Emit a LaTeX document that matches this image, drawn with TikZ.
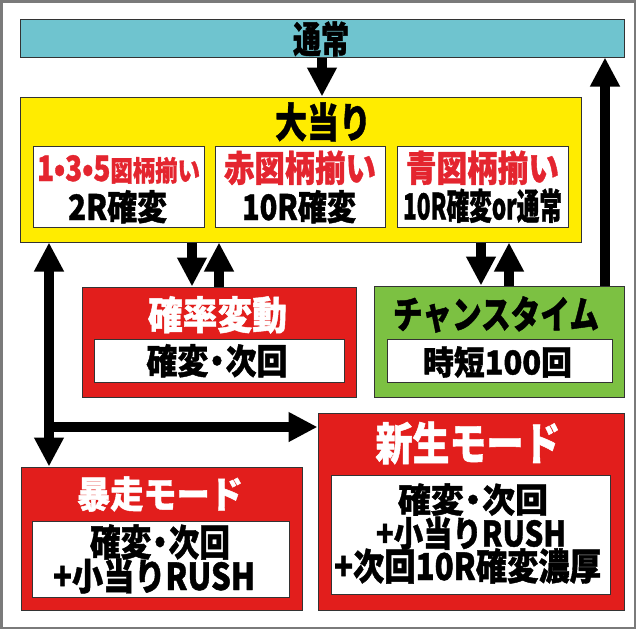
\documentclass[tikz,border=0pt]{standalone}
\usepackage{fontspec}
\setmainfont{Noto Sans CJK JP}[BoldFeatures={FakeBold=1.2}]
\usepackage{graphicx}
\usetikzlibrary{arrows.meta,calc}
\definecolor{cyanbar}{HTML}{6FC4CF}
\definecolor{yel}{HTML}{FFEC00}
\definecolor{redbox}{HTML}{E21E1C}
\definecolor{grn}{HTML}{7CC142}
\definecolor{redtxt}{HTML}{E4252F}
\definecolor{frame}{HTML}{7A7A7A}
\newcommand\tx[3]{{\fontsize{#2}{#2}\selectfont\bfseries\resizebox{#1}{\height}{#3}}}
\newcommand\dt{\kern-0.22em・\kern-0.22em}
\tikzset{
  box/.style={draw=black!80, line width=1pt, inner sep=0pt, rectangle},
  lbl/.style={inner sep=0pt, anchor=base},
  arr/.style={line width=10pt, -{Triangle[width=28pt,length=29pt]}},
  darr/.style={line width=10pt, {Triangle[width=28pt,length=29pt]}-{Triangle[width=28pt,length=29pt]}},
}
\begin{document}
\begin{tikzpicture}[x=1pt,y=-1pt]
\useasboundingbox (0,0) rectangle (642,630);
\fill[white] (0,0) rectangle (642,630);
\draw[frame, line width=2.5pt] (1.25,1.25) rectangle (635,628);
% boxes
\node[box, fill=cyanbar, minimum width=604pt, minimum height=38pt] (tsujo) at (322,38) {};
\node[box, fill=yel, minimum width=561pt, minimum height=145pt] (ooatari) at (300.5,169.5) {};
\node[box, fill=white, minimum width=171pt, minimum height=81pt] (s1) at (118.5,186.5) {};
\node[box, fill=white, minimum width=170pt, minimum height=81pt] (s2) at (300,186.5) {};
\node[box, fill=white, minimum width=171pt, minimum height=81pt] (s3) at (482.5,186.5) {};
\node[box, fill=redbox, minimum width=274pt, minimum height=110pt] (kakuhen) at (219,342) {};
\node[box, fill=white, minimum width=250pt, minimum height=43pt] (kakuheni) at (219,360.5) {};
\node[box, fill=grn, minimum width=250pt, minimum height=111pt] (chance) at (499,341.5) {};
\node[box, fill=white, minimum width=225pt, minimum height=43pt] (chancei) at (499.5,360.5) {};
\node[box, fill=redbox, minimum width=281pt, minimum height=143pt] (bousou) at (161.5,538.5) {};
\node[box, fill=white, minimum width=257pt, minimum height=76pt] (bousoui) at (160.5,559) {};
\node[box, fill=redbox, minimum width=306pt, minimum height=197pt] (shinsei) at (471,511.5) {};
\node[box, fill=white, minimum width=279pt, minimum height=119pt] (shinseii) at (470.5,534.5) {};
% texts
\node[lbl] (t1) at (321,53) {\tx{56pt}{37}{通常}};
\node[lbl] (t2) at (323,137.5) {\tx{96pt}{41}{大当り}};
\node[lbl, text=redtxt] (t3) at (118.5,181) {\tx{163pt}{35}{1•3•5{\fontsize{28}{28}\selectfont 図柄揃い}}};
\node[lbl] (t4) at (117.5,220) {\tx{99pt}{35}{2R確変}};
\node[lbl, text=redtxt] (t5) at (300,181.5) {\tx{152pt}{36}{赤図柄揃い}};
\node[lbl] (t6) at (299,220) {\tx{114pt}{35}{10R確変}};
\node[lbl, text=redtxt] (t7) at (482.5,181.5) {\tx{153pt}{36}{青図柄揃い}};
\node[lbl] (t8) at (482.5,219.5) {\tx{159pt}{36}{10R確変or通常}};
\node[lbl, text=white] (t9) at (217.5,329.5) {\tx{139pt}{39}{確率変動}};
\node[lbl] (t10) at (217,374) {\tx{141pt}{35}{確変\dt 次回}};
\node[lbl] (t11) at (496,328.5) {\tx{206pt}{38}{チャンスタイム}};
\node[lbl] (t12) at (497.5,374.5) {\tx{149pt}{33}{時短100回}};
\node[lbl, text=white] (t13) at (160,508) {\tx{166pt}{37}{暴走モード}};
\node[lbl] (t14) at (160,556) {\tx{140pt}{37}{確変\dt 次回}};
\node[lbl] (t15) at (154,590) {\tx{202pt}{37}{+小当りRUSH}};
\node[lbl, text=white] (t16) at (468,460) {\tx{185pt}{45}{新生モード}};
\node[lbl] (t17) at (473,512.5) {\tx{150pt}{34}{確変\dt 次回}};
\node[lbl] (t18) at (471,546.5) {\tx{190pt}{35}{+小当りRUSH}};
\node[lbl] (t19) at (467.5,580) {\tx{267pt}{37}{+次回10R確変濃厚}};
% arrows
\draw[arr] (tsujo.south) -- (tsujo.south |- ooatari.north);
\draw[arr] ($(kakuhen.north |- ooatari.south)+(-27,0)$) -- ($(kakuhen.north)+(-27,0)$);
\draw[arr] (kakuhen.north) -- (kakuhen.north |- ooatari.south);
\draw[arr] ($(chance.north |- ooatari.south)+(-18,0)$) -- ($(chance.north)+(-18,0)$);
\draw[arr] ($(chance.north)+(10,0)$) -- ($(chance.north |- ooatari.south)+(10,0)$);
\draw[arr] ($(chance.north)+(106,0)$) -- ($(chance.north |- tsujo.south)+(106,0)$);
\draw[darr] ($(bousou.north)+(-112.5,0)$) -- ($(bousou.north |- ooatari.south)+(-112.5,0)$);
\coordinate (br) at (49,427);
\draw[arr] (br) -- (br -| shinsei.west);
\end{tikzpicture}
\end{document}
